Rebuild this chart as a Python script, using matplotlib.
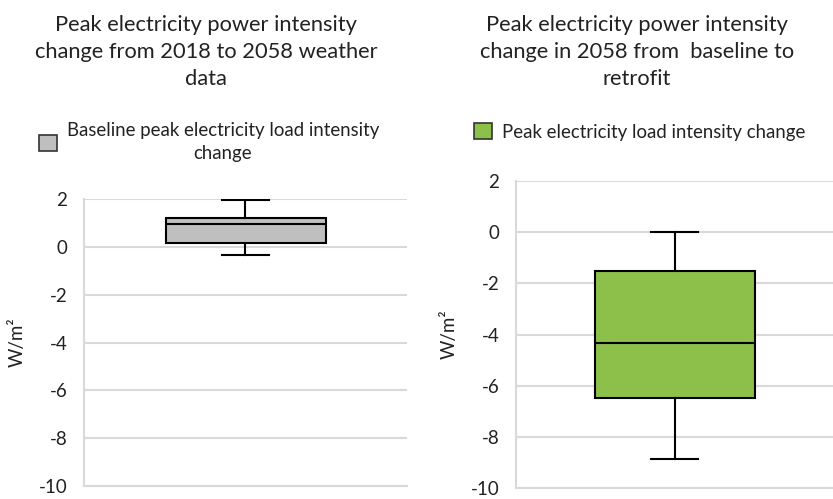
import matplotlib
matplotlib.use("Agg")
import matplotlib.pyplot as plt
from matplotlib.patches import Patch

plt.rcParams['font.family'] = ['Lato', 'DejaVu Sans']

# ---- data ----
titles = ["Peak electricity power intensity\nchange from 2018 to 2058 weather\ndata",
          "Peak electricity power intensity\nchange in 2058 from  baseline to\nretrofit"]
legend_labels = ["Baseline peak electricity load intensity\nchange",
                 "Peak electricity load intensity change"]
ylabel = "W/m²"
yticks = [2, 0, -2, -4, -6, -8, -10]
# box stats: whisker low, q1, median, q3, whisker high
left_whislo, left_q1, left_med, left_q3, left_whishi = -0.36, 0.18, 0.97, 1.22, 1.95
right_whislo, right_q1, right_med, right_q3, right_whishi = -8.87, -6.47, -4.34, -1.51, 0.0
colors = ['#BFBFBF', '#8CC04A']

W, H = 833, 499
fig = plt.figure(figsize=(W / 100, H / 100), dpi=100)

def px_axes(l, r, t, b):
    return fig.add_axes([l / W, 1 - b / H, (r - l) / W, (b - t) / H])

axL = px_axes(84, 407, 199, 486)
axR = px_axes(516, 833, 181, 488)

stats = [
    dict(whislo=left_whislo, q1=left_q1, med=left_med, q3=left_q3, whishi=left_whishi, fliers=[]),
    dict(whislo=right_whislo, q1=right_q1, med=right_med, q3=right_q3, whishi=right_whishi, fliers=[]),
]
grid_c = '#D9D9D9'
for ax, st, col, axw in zip([axL, axR], stats, colors, [323, 317]):
    bw = 160 / axw
    ax.bxp([st], positions=[1], widths=bw, patch_artist=True, showfliers=False,
           boxprops=dict(facecolor=col, edgecolor='black', linewidth=1.5),
           medianprops=dict(color='black', linewidth=1.5),
           whiskerprops=dict(color='black', linewidth=1.5),
           capprops=dict(color='black', linewidth=1.5),
           capwidths=[47 / axw], zorder=3)
    ax.set_xlim(0.5, 1.5)
    ax.set_ylim(-10, 2)
    ax.set_yticks(yticks)
    ax.set_yticklabels([str(v) for v in yticks], fontsize=13.5, color='#222222')
    ax.set_xticks([])
    ax.yaxis.grid(True, color=grid_c, linewidth=1.5, zorder=0)
    ax.set_axisbelow(True)
    for s in ['top', 'right']:
        ax.spines[s].set_visible(False)
    for s in ['left', 'bottom']:
        ax.spines[s].set_color(grid_c)
        ax.spines[s].set_linewidth(1.5)
    ax.tick_params(axis='y', length=0, pad=12)
    ax.set_ylabel(ylabel, fontsize=13.5, color='#222222')
    ax.yaxis.set_label_coords(-58 / axw, 0.5)

# titles
for txt, cx in zip(titles, [206, 637]):
    fig.text(cx / W, 1 - 52 / H, txt, ha='center', va='center', fontsize=15.75,
             linespacing=1.43, color='#222222')

# legends
for lab, col, cx, cy in zip(legend_labels, colors, [209, 640], [142, 132]):
    h = Patch(facecolor=col, edgecolor='#333333', linewidth=1.2)
    leg = fig.legend([h], [lab], loc='center', bbox_to_anchor=(cx / W, 1 - cy / H),
                     frameon=False, fontsize=13.4, handlelength=0.95, handleheight=0.95,
                     handletextpad=0.55, borderpad=0)
    for t in leg.get_texts():
        t.set_multialignment('center')
        t.set_linespacing(1.4)
        t.set_color('#222222')

fig.savefig("out.png", dpi=100)
